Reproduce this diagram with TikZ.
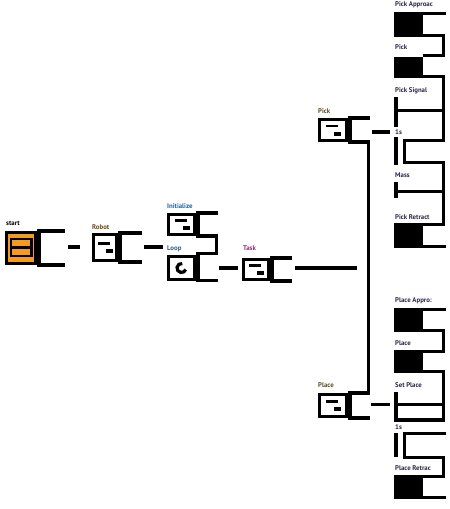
\documentclass[tikz,border=0pt]{standalone}
\usepackage{fontspec}
\setmainfont{PT Sans}

\definecolor{blockorange}{HTML}{F49B1F}
\definecolor{robotcol}{HTML}{6B4A12}
\definecolor{initcol}{HTML}{1E64A8}
\definecolor{loopcol}{HTML}{2A5C8E}
\definecolor{taskcol}{HTML}{8E2A78}
\definecolor{pickcol}{HTML}{5A4E20}
\definecolor{stepcol}{HTML}{2A2A48}

\tikzset{
  wire/.style={line width=3.2pt},
  icon/.style={draw,line width=3.2pt,inner sep=0pt,fill=white},
  tag/.style={anchor=west,inner sep=0pt,font=\fontsize{6.8}{7}\selectfont\bfseries},
}

% C-shaped bracket on the right of a block
\newcommand{\bracket}[2]{%
  \draw[wire] (#1.north east) -- ++(#2,0);
  \draw[wire] (#1.south east) -- ++(#2,0);
  \draw[wire] ([xshift=2pt]#1.north east) -- ([xshift=2pt]#1.south east);}

% the two little bars inside a block
\newcommand{\docicon}[1]{%
  \draw[line width=2.4pt] ([shift={(-7pt,4pt)}]#1.center) -- ([shift={(5pt,4pt)}]#1.center);
  \fill ([shift={(1pt,-1.5pt)}]#1.center) rectangle ([shift={(8pt,-5.5pt)}]#1.center);}

\begin{document}
\begin{tikzpicture}[x=1pt,y=-1pt]
  \useasboundingbox (0,0) rectangle (450,509);

  % main row
  \node[icon,fill=blockorange,minimum width=28.8pt,minimum height=30.8pt] (start) at (21,248) {};
  \draw[line width=2.6pt] (10.8,238.8) rectangle (31.2,256);
  \draw[line width=2.6pt] (10.8,247.3) -- (31.2,247.3);
  \bracket{start}{28}
  \node[tag] (start-lbl) at (6,223) {start};

  \node[icon,minimum width=22.8pt,minimum height=25.8pt] (robot) at (105,247.5) {};
  \docicon{robot}
  \bracket{robot}{24}
  \node[tag,text=robotcol] (robot-lbl) at (92,227) {Robot};

  \node[icon,minimum width=25.8pt,minimum height=19.8pt] (init) at (181.5,224.5) {};
  \docicon{init}
  \bracket{init}{22}
  \node[tag,text=initcol] (init-lbl) at (167,206) {Initialize};

  \node[icon,minimum width=25.8pt,minimum height=22.4pt] (loop) at (181.5,268) {};
  \draw[line width=3.2pt] ([shift={(80:4.5pt)}]loop.center) arc[start angle=80,end angle=340,radius=4.5pt];
  \draw[wire] ([xshift=20.7pt]init.south east) |- ([yshift=2pt]loop.north east);
  \draw[wire] ([xshift=2pt,yshift=2pt]loop.north east) -- ([xshift=2pt]loop.south east);
  \draw[wire] (loop.south east) -- ++(22,0);
  \node[tag,text=loopcol] (loop-lbl) at (167,249) {Loop};

  \node[icon,minimum width=24.8pt,minimum height=19.8pt] (task) at (256,269.5) {};
  \docicon{task}
  \bracket{task}{22}
  \node[tag,text=taskcol] (task-lbl) at (243,248) {Task};

  \node[icon,minimum width=26.8pt,minimum height=20.8pt] (pick) at (333,130) {};
  \docicon{pick}
  \bracket{pick}{22}
  \node[tag,text=pickcol] (pick-lbl) at (318,111) {Pick};

  \node[icon,minimum width=26.8pt,minimum height=21.8pt] (place) at (333,405.5) {};
  \docicon{place}
  \bracket{place}{22}
  \node[tag,text=pickcol] (place-lbl) at (318,385) {Place};

  \draw[wire] ([xshift=20.7pt]pick.south east) -- ([xshift=20.7pt]place.north east);

  % connectors
  \coordinate (start-out) at (68,247);
  \coordinate (robot-in) at (80,247);
  \coordinate (robot-out) at (144,247);
  \coordinate (init-in) at (163,247);
  \coordinate (loop-out) at (219,268);
  \coordinate (task-in) at (238,268);
  \coordinate (task-out) at (295,268);
  \coordinate (task-end) at (357,268);
  \coordinate (pick-out) at (372,132);
  \coordinate (pick-in) at (390,132);
  \coordinate (place-out) at (371,404.5);
  \coordinate (place-in) at (390,404.5);
  \draw[wire] (start-out) -- (robot-in);
  \draw[wire] (robot-out) -- (init-in);
  \draw[wire] (loop-out) -- (task-in);
  \draw[wire] (task-out) -- (task-end);
  \draw[wire] (pick-out) -- (pick-in);
  \draw[wire] (place-out) -- (place-in);

  % right column: pick steps
  \foreach \y/\h in {12/25,57/21,223/25,308/24,350/23,475/24}
    \fill (394,\y) rectangle ++(29,\h);
  \draw[wire] (423,13.6) -- (446,13.6);
  \draw[wire] (423,35.4) -| (443.5,55.5) -- (423,55.5);
  \draw[wire] (423,76.4) -| (443.5,140.2) -| (404.8,162.8) -| (443.5,224.6) -- (423,224.6);
  \draw[wire] (423,246.4) -- (446,246.4);
  \draw[wire] (396,97) -- (396,127);
  \draw[wire] (396,110.5) -- (443.5,110.5);
  \draw[wire] (396,137) -- (396,165);
  \draw[wire] (396,182) -- (396,198);
  \draw[wire] (396,191.5) -- (443.5,191.5);

  % right column: place steps
  \draw[wire] (423,309.6) -- (446,309.6);
  \draw[wire] (423,330.4) -| (443.5,351.3) -- (423,351.3);
  \draw[wire] (423,371.4) -| (443.5,420) -- (396,420);
  \draw[wire] (396,392) -- (396,421.6);
  \draw[wire] (396,404.5) -- (443.5,404.5);
  \draw[wire] (446,433.5) -| (404.8,457.5) -| (443.5,476.6) -- (423,476.6);
  \draw[wire] (396,433) -- (396,457);
  \draw[wire] (423,497.4) -- (446,497.4);

  \foreach \t/\y [count=\i] in {Pick Approac/5,Pick/47,Pick Signal/91,1s/132,Mass/175,Pick Retract/217,
      Place Appro:/301,Place/343,Set Place/385,1s/427,Place Retrac/468}
    \node[tag,text=stepcol] (step-\i) at (395,\y) {\t};
\end{tikzpicture}
\end{document}
